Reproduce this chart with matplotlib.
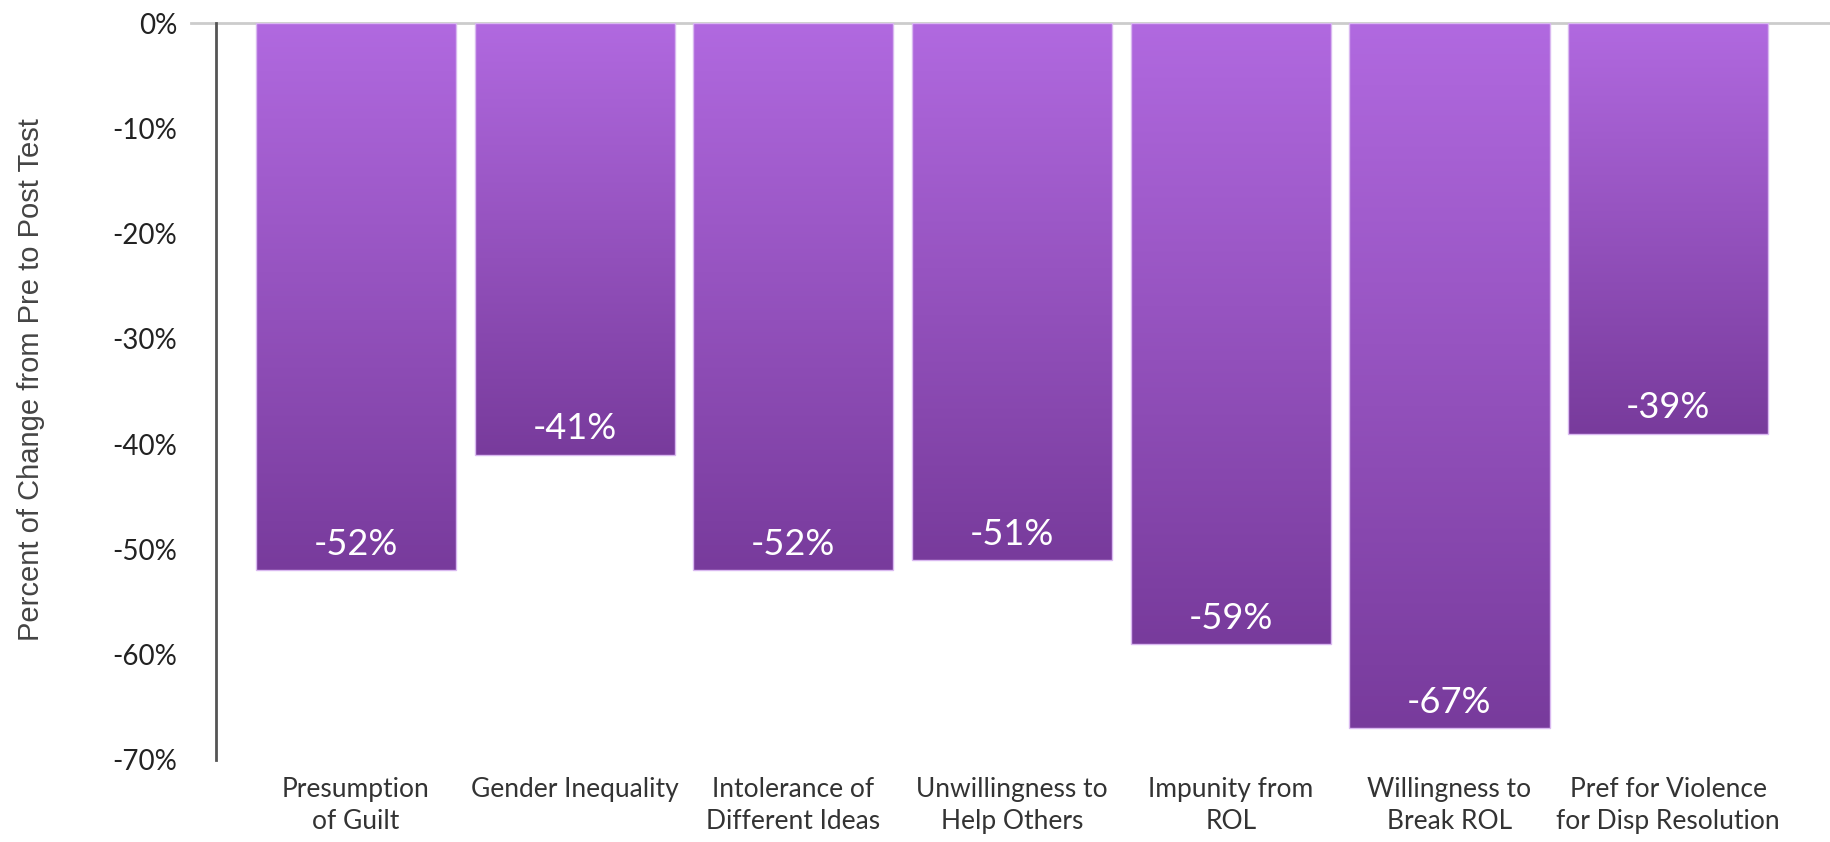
import numpy as np
import matplotlib
matplotlib.use("Agg")
import matplotlib.pyplot as plt
from matplotlib.colors import LinearSegmentedColormap
from matplotlib.patches import Rectangle

categories = [
    "Presumption\nof Guilt",
    "Gender Inequality",
    "Intolerance of\nDifferent Ideas",
    "Unwillingness to\nHelp Others",
    "Impunity from\nROL",
    "Willingness to\nBreak ROL",
    "Pref for Violence\nfor Disp Resolution",
]
changes = [-52, -41, -52, -51, -59, -67, -39]
y_ticks = [0, -10, -20, -30, -40, -50, -60, -70]
y_tick_labels = ["0%", "-10%", "-20%", "-30%", "-40%", "-50%", "-60%", "-70%"]

W, H = 1831, 842
fig = plt.figure(figsize=(W / 100, H / 100), dpi=100)
ax = fig.add_axes([216 / W, (H - 760) / H, (1830 - 216) / W, (760 - 23) / H])

label_font = ["Lato", "DejaVu Sans"]
bar_width = 0.915
cmap = LinearSegmentedColormap.from_list("purple", ["#B169E0", "#783B9C"])
grad = np.linspace(0, 1, 256).reshape(-1, 1)

x = np.arange(len(categories))
bars = ax.bar(x, changes, width=bar_width, color="none", edgecolor="none", zorder=2)
for rect, val in zip(bars, changes):
    x0 = rect.get_x()
    w = rect.get_width()
    im = ax.imshow(grad, cmap=cmap, aspect="auto", origin="upper",
                   extent=[x0, x0 + w, val, 0], zorder=2, interpolation="bicubic")
    clip = Rectangle((x0, val), w, -val, transform=ax.transData)
    im.set_clip_path(clip)
    ax.add_patch(Rectangle((x0, val), w, -val, fill=False, edgecolor="#D9B8F0",
                           linewidth=1.0, zorder=3))
    ax.annotate(f"{val}%", (x0 + w / 2, val), xytext=(0, 11), textcoords="offset points",
                ha="center", va="baseline", color="white", fontsize=26,
                family=label_font, zorder=4)

ax.set_xlim(-0.64, 6.74)
ax.set_ylim(-70, 0)
ax.set_yticks(y_ticks)
ax.set_yticklabels(y_tick_labels, family=label_font, fontsize=20, color="#222222")
ax.set_xticks(x)
ax.set_xticklabels(categories, family=label_font, fontsize=19, color="#333333",
                   linespacing=1.35)
ax.tick_params(axis="y", length=0, pad=28)
ax.tick_params(axis="x", length=0, pad=12)

for side in ["top", "right", "bottom"]:
    ax.spines[side].set_visible(False)
ax.spines["left"].set_color("#555555")
ax.spines["left"].set_linewidth(2)

# zero baseline running across the chart, slightly past the axis on the left
ax.plot([-25 / (1830 - 216), 1], [0, 0], transform=ax.get_yaxis_transform(),
        color="#CCCCCC", linewidth=2, clip_on=False, zorder=1)

fig.text(31 / W, 1 - 380 / H, "Percent of Change from Pre to Post Test", rotation=90,
         ha="center", va="center", fontsize=21, color="#444444",
         family=["Liberation Sans", "DejaVu Sans"])

fig.savefig("out.png", dpi=100, facecolor="white")
